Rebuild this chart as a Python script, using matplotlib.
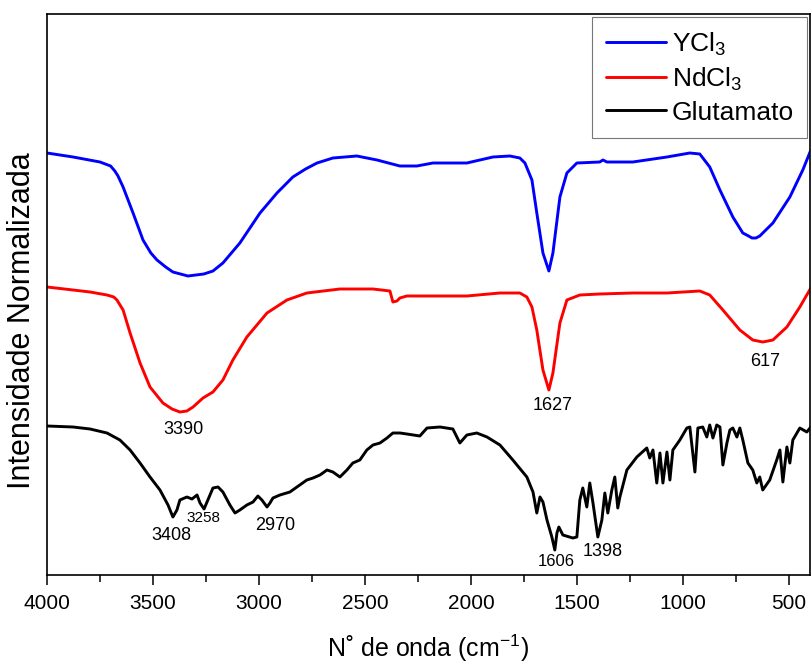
import numpy as np
import matplotlib
matplotlib.use('Agg')
import matplotlib.pyplot as plt
from matplotlib.ticker import MultipleLocator

plt.rcParams['font.family'] = ['Liberation Sans', 'DejaVu Sans']
plt.rcParams['mathtext.fontset'] = 'custom'
plt.rcParams['mathtext.rm'] = 'Liberation Sans'
plt.rcParams['mathtext.it'] = 'Liberation Sans:italic'
plt.rcParams['mathtext.bf'] = 'Liberation Sans:bold'

#    wavenumber (cm-1) and normalized intensity (a.u., offset spectra)
ycl3_wn = [4000, 3877, 3750, 3700, 3680, 3665, 3641, 3594, 3547, 3510, 3481, 3440,
           3406, 3335, 3260, 3217, 3170, 3090, 2995, 2915, 2840, 2780, 2726, 2651,
           2538, 2443, 2335, 2255, 2179, 2019, 1896, 1816, 1769, 1745, 1712, 1689,
           1660, 1632, 1613, 1580, 1547, 1500, 1392, 1377, 1358, 1236, 1075, 967,
           920, 873, 825, 764, 717, 690, 674, 655, 637, 575, 495, 434, 396]
ycl3_int = [422, 418, 413, 409, 404, 399, 388, 362, 335, 322, 315, 308,
            303, 299, 301, 304, 312, 332, 362, 382, 398, 406, 412, 417,
            419, 415, 409, 409, 412, 412, 418, 419, 417, 412, 395, 362,
            322, 304, 322, 378, 402, 412, 413, 415, 413, 413, 418, 422,
            421, 408, 385, 358, 342, 339, 337, 337, 339, 352, 378, 405, 425]

ndcl3_wn = [4000, 3877, 3797, 3717, 3685, 3670, 3641, 3608, 3561, 3514, 3453, 3410,
            3373, 3340, 3311, 3264, 3217, 3170, 3123, 3057, 2962, 2868, 2774, 2618,
            2462, 2382, 2368, 2349, 2335, 2302, 2179, 2019, 1863, 1769, 1736, 1712,
            1689, 1660, 1632, 1613, 1580, 1547, 1486, 1392, 1236, 1075, 920, 873,
            811, 731, 670, 623, 575, 509, 448, 396]
ndcl3_int = [288, 285, 283, 280, 278, 275, 265, 242, 212, 188, 172, 166,
             163, 164, 168, 177, 183, 195, 215, 238, 262, 275, 282, 286,
             286, 284, 273, 274, 277, 279, 279, 279, 282, 282, 278, 268,
             245, 205, 185, 202, 252, 275, 280, 281, 282, 282, 284, 280,
             265, 245, 235, 233, 235, 248, 268, 287]

glu_wn = [4000, 3877, 3797, 3717, 3656, 3608, 3561, 3514, 3467, 3429, 3406, 3387,
          3373, 3340, 3316, 3292, 3278, 3259, 3241, 3217, 3193, 3170, 3137, 3113,
          3090, 3057, 3028, 3005, 2986, 2962, 2948, 2934, 2901, 2854, 2807, 2774,
          2745, 2712, 2679, 2651, 2618, 2585, 2557, 2524, 2491, 2462, 2429, 2396,
          2368, 2335, 2302, 2241, 2207, 2146, 2085, 2052, 2019, 1972, 1924, 1863,
          1802, 1736, 1707, 1689, 1674, 1660, 1641, 1618, 1604, 1594, 1585, 1566,
          1519, 1500, 1486, 1472, 1453, 1439, 1424, 1401, 1382, 1368, 1354, 1335,
          1321, 1307, 1297, 1264, 1217, 1170, 1156, 1141, 1123, 1108, 1094, 1075,
          1061, 1047, 1014, 981, 967, 943, 929, 906, 887, 873, 858, 840,
          825, 811, 792, 778, 764, 745, 731, 717, 693, 670, 651, 637,
          623, 590, 557, 542, 528, 509, 495, 481, 448, 415, 396]
glu_int = [149, 148, 146, 142, 135, 125, 112, 98, 85, 70, 58, 65,
           75, 78, 76, 80, 72, 66, 75, 87, 88, 83, 70, 62,
           65, 70, 73, 79, 75, 68, 72, 77, 80, 83, 90, 95,
           97, 100, 105, 103, 98, 105, 112, 115, 125, 130, 132, 137,
           142, 142, 141, 139, 147, 148, 146, 132, 140, 142, 138, 130,
           115, 98, 83, 62, 78, 73, 55, 38, 25, 42, 48, 40,
           37, 38, 75, 87, 68, 92, 72, 38, 55, 82, 62, 85,
           98, 67, 78, 105, 118, 127, 117, 125, 92, 122, 92, 123,
           95, 125, 135, 147, 148, 103, 147, 148, 138, 150, 137, 150,
           148, 110, 132, 145, 147, 138, 147, 135, 112, 105, 92, 98,
           85, 95, 115, 125, 93, 128, 112, 135, 147, 143, 148]

labels = ['YCl$_3$', 'NdCl$_3$', 'Glutamato']
colors = ['#0000ff', '#ff0000', '#000000']

#    peak labels: text, wavenumber, intensity, font size
peaks = [('3390', 3358, 145, 13), ('3408', 3415, 40, 13), ('3258', 3264, 57, 11),
         ('2970', 2924, 50, 13), ('1627', 1613, 170, 13), ('1606', 1599, 13, 12),
         ('1398', 1377, 24, 13), ('617', 613, 214, 13)]


def main():
    fig = plt.figure(figsize=(8.12, 6.64), dpi=100)
    ax = fig.add_axes([47 / 812, 89 / 664, 763 / 812, 561 / 664])

    series = [(ycl3_wn, ycl3_int), (ndcl3_wn, ndcl3_int), (glu_wn, glu_int)]
    for (wn, inten), lab, col in zip(series, labels, colors):
        ax.plot(wn, inten, color=col, lw=2.1, label=lab,
                solid_joinstyle='round', solid_capstyle='round')

    for txt, x0, y0, fs in peaks:
        ax.text(x0, y0, txt, fontsize=fs, ha='center', va='center')

    ax.set_xlim(4000, 400)
    ax.set_ylim(0, 561)
    ax.set_yticks([])
    ax.xaxis.set_major_locator(MultipleLocator(500))
    ax.xaxis.set_minor_locator(MultipleLocator(250))
    ax.tick_params(axis='x', which='major', direction='out', length=7, width=1.1,
                   labelsize=15, pad=7)
    ax.tick_params(axis='x', which='minor', direction='out', length=5, width=1.1)
    for sp in ax.spines.values():
        sp.set_linewidth(1.2)

    leg = ax.legend(loc='upper right', bbox_to_anchor=(1.0, 1.0), fontsize=19,
                    frameon=True, fancybox=False, borderaxespad=0.12,
                    handlelength=2.3, handletextpad=0.2, labelspacing=0.3,
                    borderpad=0.5)
    leg.get_frame().set_edgecolor('#555555')
    leg.get_frame().set_linewidth(0.8)

    fig.text(22 / 812, 1 - 321 / 664, 'Intensidade Normalizada', rotation=90,
             fontsize=22, ha='center', va='center')
    fig.text(428 / 812, 1 - 657 / 664, 'N˚ de onda (cm$^{-1}$)', fontsize=18,
             ha='center', va='baseline')

    fig.savefig('out.png', dpi=100)


if __name__ == "__main__":
    main()
